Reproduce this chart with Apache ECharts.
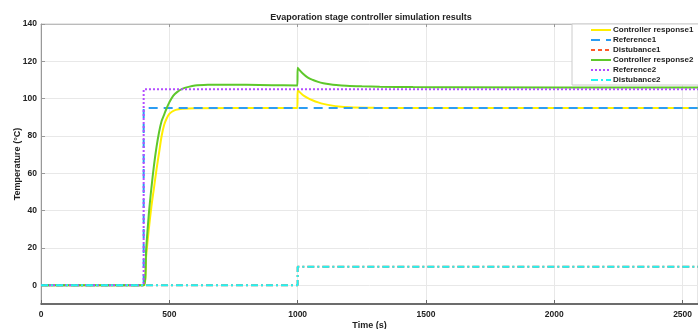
<!DOCTYPE html>
<html>
<head>
<meta charset="utf-8">
<script src="https://cdn.jsdelivr.net/npm/echarts@6/dist/echarts.min.js"></script>
<style>
  html, body { margin: 0; padding: 0; background: #fff; }
  #chart { width: 698px; height: 329px; }
</style>
</head>
<body>
<div id="chart"></div>
<script>
// time (s) / temperature (°C) pairs
var response1 = [[0,0],[400,0],[410,16],[420,30],[430,42],[440,52],[450,62],[460,71],[470,80],[480,86],
    [490,89.5],[500,91.8],[510,93],[525,94],[550,94.6],[600,94.9],[999,95],[1000,104.6],[1020,102],
    [1040,100.3],[1060,99],[1080,98],[1100,97.2],[1130,96.4],[1160,95.8],[1200,95.4],[1300,95.1],[1400,95],[2560,95]];
var reference1 = [[0,0],[400,0],[400,95],[2560,95]];
var disturbance1 = [[0,0],[1000,0],[1000,10],[2560,10]];
var response2 = [[0,0],[400,0],[410,20],[420,38],[430,52],[440,64],[450,74],[460,82],[470,88],[480,91.5],
    [490,95],[500,98],[515,101.5],[530,103.5],[550,105.2],[575,106.3],[600,107],[650,107.4],[700,107.5],
    [800,107.4],[900,107.2],[999,107.1],[1000,116.5],[1020,113.5],[1040,111.3],[1060,110],[1080,109],
    [1100,108.3],[1125,107.7],[1150,107.3],[1190,106.9],[1250,106.6],[1320,106.4],[1450,106.2],[1600,106.1],[2560,106]];
var reference2 = [[0,0],[400,0],[400,105],[2560,105]];
var disturbance2 = [[0,0],[1000,0],[1000,10],[2560,10]];

var names = ['Controller response1', 'Reference1', 'Distubance1', 'Controller response2', 'Reference2', 'Distubance2'];
var yTicks = [0, 20, 40, 60, 80, 100, 120, 140];

var chart = echarts.init(document.getElementById('chart'));

var dashDot = [7, 3, 2, 3];

function line(name, data, color, type, smooth) {
    return {
        name: name,
        type: 'line',
        data: data,
        symbol: 'none',
        smooth: smooth ? 0.3 : false,
        animation: false,
        lineStyle: { color: color, width: 2, type: type },
        itemStyle: { color: color }
    };
}

var legendData = names.map(function (n) { return { name: n }; });
// in the key the first disturbance shows as a plain dashed line
legendData[2].lineStyle = { type: [4, 3] };

var option = {
    backgroundColor: '#fff',
    title: {
        text: 'Evaporation stage controller simulation results',
        left: 366,
        textAlign: 'center',
        top: 8,
        textStyle: { fontFamily: 'Liberation Sans', fontSize: 9, fontWeight: 'bold', color: '#222' }
    },
    legend: {
        left: 572,
        top: 24,
        orient: 'vertical',
        itemWidth: 20,
        itemHeight: 8,
        itemGap: 2,
        padding: [2, 30, 1, 18],
        borderColor: '#ccc',
        borderWidth: 1,
        backgroundColor: '#fff',
        itemStyle: { opacity: 0 },
        data: legendData,
        textStyle: { fontFamily: 'Liberation Sans', fontSize: 8, fontWeight: 'bold', color: '#222', padding: [0, 0, 0, -3] }
    },
    grid: {
        left: 41, right: 0, top: 24, bottom: 25,
        outerBoundsMode: 'none',
        show: true, borderColor: '#ccc', borderWidth: 1
    },
    xAxis: [{
        type: 'value',
        min: 0,
        max: 2560,
        interval: 500,
        name: 'Time (s)',
        nameLocation: 'middle',
        nameGap: 17,
        nameMoveOverlap: false,
        nameTextStyle: { fontFamily: 'Liberation Sans', fontSize: 9, fontWeight: 'bold', color: '#222' },
        axisLine: { onZero: false, lineStyle: { color: '#444', width: 1.5 } },
        axisTick: { inside: true, length: 4, lineStyle: { color: '#666' } },
        axisLabel: { showMaxLabel: false, margin: 6, fontFamily: 'Liberation Sans', fontSize: 8.5, fontWeight: 'bold', color: '#222',
            formatter: function (v) { return String(v); } },
        splitLine: { show: true, lineStyle: { color: '#e8e8e8' } }
    }, {
        type: 'value',
        position: 'top',
        min: 0,
        max: 2560,
        interval: 500,
        axisLine: { onZero: false, lineStyle: { color: '#bbb' } },
        axisTick: { inside: true, length: 3, lineStyle: { color: '#999' } },
        axisLabel: { show: false },
        splitLine: { show: false }
    }],
    yAxis: {
        type: 'value',
        min: -10,
        max: 140,
        name: 'Temperature (°C)',
        nameLocation: 'middle',
        nameGap: 19,
        nameMoveOverlap: false,
        nameTextStyle: { fontFamily: 'Liberation Sans', fontSize: 9, fontWeight: 'bold', color: '#222' },
        axisLine: { show: true, onZero: false, lineStyle: { color: '#999' } },
        axisTick: { inside: true, length: 4, customValues: yTicks, lineStyle: { color: '#999' } },
        axisLabel: { customValues: yTicks, margin: 4, fontFamily: 'Liberation Sans', fontSize: 8.5, fontWeight: 'bold', color: '#222' },
        splitLine: { show: true, lineStyle: { color: '#e8e8e8' } }
    },
    series: [
        line(names[0], response1, '#ffee00', 'solid', true),
        line(names[1], reference1, '#2b9cf2', [9, 6], false),
        line(names[2], disturbance1, '#ff5a2a', dashDot, false),
        line(names[3], response2, '#5ec82b', 'solid', true),
        line(names[4], reference2, '#b44dff', [2, 2], false),
        line(names[5], disturbance2, '#1ff5f5', dashDot, false)
    ]
};
chart.setOption(option);
</script>
</body>
</html>
